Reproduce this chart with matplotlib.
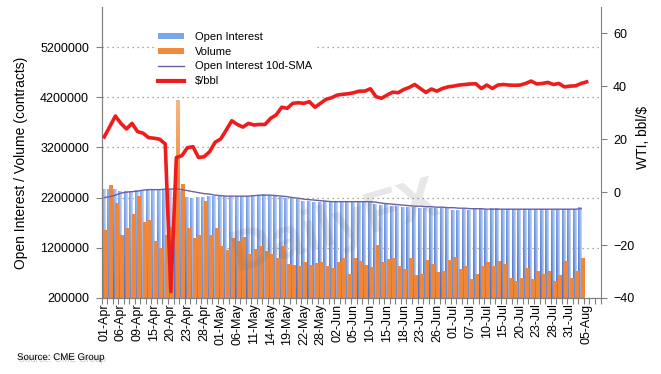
import matplotlib
matplotlib.use("Agg")
import matplotlib.pyplot as plt
import matplotlib.colors as mcolors
import matplotlib.patheffects as pe
from matplotlib.patches import Patch
from matplotlib.lines import Line2D
from matplotlib.ticker import NullFormatter
import numpy as np
import pandas as pd

plt.rcParams["font.family"] = ["Liberation Sans", "DejaVu Sans"]

# CME trading days (Good Friday, Memorial Day and 3 Jul closed)
holidays = ["2020-04-10", "2020-05-25", "2020-07-03"]
days = pd.bdate_range("2020-04-01", periods=90, freq="C", holidays=holidays)
day_labels = [d.strftime("%d-%b") for d in days]

# millions of contracts
open_interest = [2.37, 2.37, 2.37, 2.33, 2.32, 2.33, 2.34, 2.34, 2.34, 2.34,
                 2.35, 2.35, 2.37, 2.38, 2.33, 2.21, 2.18, 2.20, 2.20, 2.22,
                 2.22, 2.23, 2.22, 2.22, 2.22, 2.22, 2.23, 2.24, 2.25, 2.27,
                 2.25, 2.22, 2.20, 2.18, 2.18, 2.17, 2.13, 2.12, 2.11, 2.11,
                 2.12, 2.12, 2.12, 2.12, 2.12, 2.12, 2.12, 2.13, 2.12, 2.06,
                 2.05, 2.07, 2.02, 2.02, 2.01, 2.00, 2.00, 1.98, 1.99, 1.98,
                 1.98, 1.99, 1.98, 1.95, 1.95, 1.96, 1.95, 1.96, 1.98, 1.97,
                 1.99, 1.98, 1.96, 1.96, 1.96, 1.97, 1.96, 1.96, 1.96, 1.96,
                 1.97, 1.96, 1.96, 1.96, 1.96, 1.97, 2.00]

volume = [1.55, 2.44, 2.08, 1.44, 1.59, 1.86, 2.23, 1.70, 1.75, 1.32,
          1.19, 1.45, 1.60, 4.14, 2.47, 1.59, 1.38, 1.45, 2.13, 1.44,
          1.59, 1.22, 1.14, 1.39, 1.32, 1.40, 1.06, 1.16, 1.22, 1.12,
          1.06, 0.98, 1.22, 0.86, 0.84, 0.82, 0.90, 0.84, 0.89, 0.90,
          0.82, 0.79, 0.90, 0.99, 0.66, 0.98, 0.92, 0.85, 0.80, 1.24,
          0.91, 0.96, 0.99, 0.82, 0.77, 0.99, 0.64, 0.66, 0.94, 0.86,
          0.70, 0.72, 0.94, 1.01, 0.77, 0.82, 0.56, 0.66, 0.82, 0.90,
          0.82, 0.92, 0.87, 0.59, 0.52, 0.59, 0.79, 0.57, 0.72, 0.66,
          0.72, 0.52, 0.64, 0.92, 0.59, 0.72, 0.99]

oi_sma = [2.20, 2.22, 2.25, 2.29, 2.31, 2.32, 2.33, 2.35, 2.36, 2.36,
          2.36, 2.37, 2.37, 2.38, 2.36, 2.34, 2.32, 2.30, 2.28, 2.27,
          2.25, 2.24, 2.23, 2.23, 2.23, 2.23, 2.23, 2.24, 2.25, 2.25,
          2.25, 2.24, 2.23, 2.22, 2.20, 2.19, 2.17, 2.16, 2.15, 2.14,
          2.13, 2.12, 2.12, 2.12, 2.12, 2.12, 2.12, 2.12, 2.12, 2.11,
          2.09, 2.08, 2.07, 2.06, 2.05, 2.04, 2.03, 2.03, 2.02, 2.02,
          2.01, 2.01, 2.00, 2.00, 1.99, 1.99, 1.98, 1.98, 1.98, 1.97,
          1.97, 1.97, 1.97, 1.97, 1.97, 1.97, 1.97, 1.97, 1.97, 1.97,
          1.97, 1.97, 1.97, 1.97, 1.97, 1.97, 1.98]

# WTI $/bbl
wti = [20.9, 24.8, 28.8, 26.0, 23.9, 26.0, 22.9, 22.3, 20.6, 20.4,
       20.0, 18.2, -37.6, 13.1, 13.8, 16.8, 17.2, 13.1, 13.4, 15.3,
       18.9, 20.1, 23.5, 27.0, 25.6, 24.6, 26.0, 25.4, 25.6, 25.6,
       27.9, 29.2, 32.1, 31.7, 33.6, 33.8, 33.6, 34.2, 32.1, 33.6,
       35.1, 35.7, 36.7, 37.0, 37.2, 37.6, 38.2, 38.2, 39.1, 36.1,
       35.5, 36.7, 37.8, 37.6, 38.8, 39.6, 40.7, 39.2, 37.7, 39.0,
       38.2, 39.2, 39.8, 40.1, 40.5, 40.7, 40.9, 41.0, 39.2, 40.5,
       39.2, 40.5, 40.7, 40.5, 40.4, 40.5, 41.1, 42.0, 40.9, 41.1,
       41.5, 40.7, 41.1, 39.8, 40.1, 40.2, 41.1, 41.7]

BASE = 200000
oi = np.array(open_interest) * 1e6
vol = np.array(volume) * 1e6
sma = np.array(oi_sma) * 1e6

fig = plt.figure(figsize=(6.61, 3.74), dpi=100)
ax1 = fig.add_axes([101.5 / 661, 76 / 374, 499 / 661, 291 / 374])
ax2 = ax1.twinx()

blue_bot = np.array(mcolors.to_rgb("#4669bf"))
blue_top = np.array(mcolors.to_rgb("#7ea7ee"))
blue_pale = np.array(mcolors.to_rgb("#d9e5f8"))
orange = np.array(mcolors.to_rgb("#ef8638"))
orange_light = np.array(mcolors.to_rgb("#f6b680"))


def gradient_bar(ax, x0, x1, top, kind):
    ys = np.linspace(BASE, top, 24)
    if kind == "oi":
        t = np.clip((ys - BASE) / 2.2e6, 0, 1)[:, None]
        col = blue_bot + (blue_top - blue_bot) * t
        s = np.linspace(0, 1, 8) ** 1.2 * 0.85
        img = col[:, None, :] + (blue_pale - col[:, None, :]) * s[None, :, None]
    else:
        t = np.clip((ys - 2.4e6) / 1.8e6, 0, 1)[:, None]
        col = orange + (orange_light - orange) * t
        img = np.repeat(col[:, None, :], 4, axis=1)
    ax.imshow(img, extent=(x0, x1, BASE, top), origin="lower", aspect="auto",
              interpolation="bilinear", zorder=2)


for i in range(len(oi)):
    gradient_bar(ax1, i - 0.5, i + 0.15, oi[i], "oi")
for i in range(len(vol)):
    gradient_bar(ax1, i - 0.08, i + 0.47, vol[i], "vol")

ax1.plot(np.arange(len(sma)), sma, color="#6b5fa8", lw=1, zorder=4)
ax2.plot(np.arange(len(wti)), wti, color="#ee1c1c", lw=2.6,
         solid_joinstyle="round", zorder=5)

# axes
ax1.set_xlim(-0.5, 89.5)
ax1.set_ylim(BASE, 6000000)
ax2.set_ylim(-40, 70)

yt = np.arange(200000, 5200001, 1000000)
ax1.set_yticks(yt, labels=[f"{int(v)}" for v in yt])
ax2.set_yticks([-40, -20, 0, 20, 40, 60])

ax1.set_xticks(np.arange(-0.5, 90, 1))
ax1.xaxis.set_major_formatter(NullFormatter())
ax1.set_xticks(np.arange(0, 90, 3), labels=day_labels[::3], minor=True)
ax1.tick_params(axis="x", which="major", length=4, color="#808080")
ax1.tick_params(axis="x", which="minor", length=0, pad=4, labelsize=9,
                labelrotation=90)
ax1.tick_params(axis="y", length=4, pad=5, labelsize=9, color="#808080")
ax2.tick_params(axis="y", length=4, pad=5, labelsize=9, color="#808080")

ax1.yaxis.grid(True, linestyle=(0, (1, 3)), color="#8c8c8c", lw=0.9)
ax1.set_axisbelow(True)

for ax in (ax1, ax2):
    ax.spines["top"].set_visible(False)
    for s in ("left", "right", "bottom"):
        ax.spines[s].set_color("#808080")
ax1.spines["right"].set_visible(False)

fig.text(21 / 661, 1 - 163 / 374, "Open Interest / Volume (contracts)",
         rotation=90, ha="center", va="center", fontsize=10)
fig.text(643 / 661, 1 - 137 / 374, "WTI, bbl/$",
         rotation=90, ha="center", va="center", fontsize=10)

# faint watermark
fig.text(335 / 661, 1 - 228 / 374, "DailyFX", rotation=16, ha="center",
         va="center", fontsize=42, fontweight="bold", color="#707070",
         alpha=0.17)

fig.text(17 / 661, 1 - 357 / 374, "Source: CME Group", fontsize=7,
         va="center",
         path_effects=[pe.withSimplePatchShadow(offset=(1, -1.5),
                                                shadow_rgbFace="#aaaaaa",
                                                alpha=0.6)])

handles = [Patch(facecolor="#7aa6ec", edgecolor="none"),
           Patch(facecolor="#f08b3d", edgecolor="none"),
           Line2D([], [], color="#6b5fa8", lw=1),
           Line2D([], [], color="#ee1c1c", lw=3)]
labels = ["Open Interest", "Volume", "Open Interest 10d-SMA", "$/bbl"]
leg = ax2.legend(handles, labels, loc="upper left",
                 bbox_to_anchor=(148 / 661, 1 - 22 / 374),
                 bbox_transform=fig.transFigure, fontsize=8,
                 handlelength=2.35, handleheight=0.45, handletextpad=1.0,
                 labelspacing=0.42, borderpad=0.4, fancybox=False,
                 frameon=True)
leg.get_frame().set_edgecolor("none")
leg.get_frame().set_facecolor("white")
leg.get_frame().set_alpha(1)

fig.savefig("out.png", dpi=100)
